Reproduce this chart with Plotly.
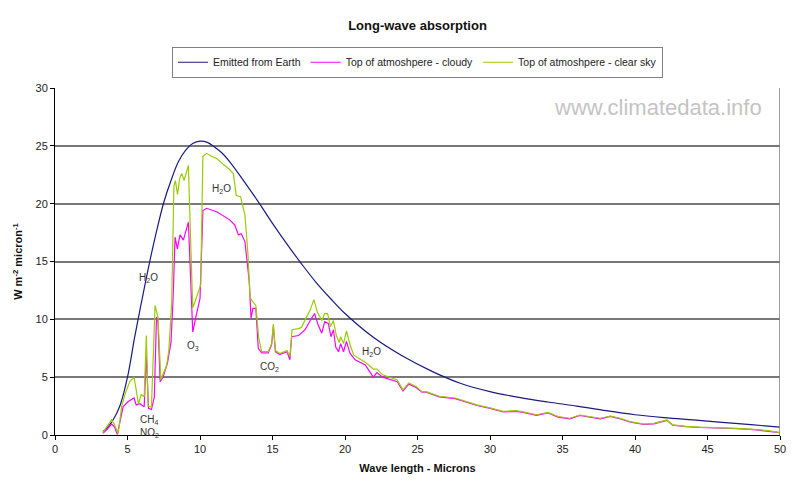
import plotly.graph_objects as go

# Emitted from Earth
earth_x = [3.3, 3.5, 4, 4.5, 5, 5.5, 6, 6.5, 7, 7.5, 8, 8.5, 9, 9.5, 10, 10.5, 11, 11.5, 12,
           13, 14, 15, 16, 17, 18, 19, 20, 22, 24, 26, 28, 30, 32, 34, 36, 38, 40, 42, 44, 46, 48, 50]
earth_y = [0.3, 0.5, 1.3, 2.6, 5.0, 8.5, 11.7, 14.8, 17.6, 20.1, 22.0, 23.6, 24.6, 25.2, 25.4, 25.3, 24.9, 24.4, 23.7,
           22.0, 20.2, 18.3, 16.5, 14.8, 13.2, 11.8, 10.5, 8.4, 6.8, 5.5, 4.45, 3.75, 3.25, 2.85, 2.5, 2.1, 1.75, 1.5, 1.3, 1.1, 0.9, 0.68]

# Top of atmosphere - clear sky
clear_x = [3.3, 3.6, 3.9, 4.1, 4.35, 4.6, 4.85, 5.15, 5.45, 5.6, 5.75, 5.95, 6.15, 6.3, 6.42, 6.65, 6.9, 7.1, 7.3,
           7.7, 7.85, 8.05, 8.2, 8.3, 8.45, 8.6, 8.75, 8.9, 9.2, 9.35, 9.5, 9.65, 9.9, 10.05, 10.2, 10.45, 10.8, 11.15,
           11.6, 12.0, 12.3, 12.5, 12.8, 13.1, 13.3, 13.45, 13.65, 13.85, 14.05, 14.25, 14.7, 14.94, 15.06, 15.2, 15.5,
           16.0, 16.2, 16.35, 16.8, 17.0, 17.3, 17.6, 17.85, 18.1, 18.4, 18.6, 18.8, 19.0, 19.2, 19.4, 19.6, 19.7, 19.9,
           20.1, 20.35, 20.6, 21.0, 21.4, 21.95, 22.2, 22.6, 23.0, 23.6, 24.0, 24.4, 24.9, 25.3, 25.6, 26.5, 27.6, 28.4,
           29.1, 30.0, 30.9, 31.8, 32.3, 33.2, 34.0, 34.7, 35.5, 36.2, 36.9, 37.6, 38.3, 39.0, 39.7, 40.6, 41.3, 42.2,
           42.6, 43.5, 44.5, 45.9, 47.0, 48.2, 49.2, 50.0]
clear_y = [0.2, 0.7, 1.3, 0.9, 0.1, 2.5, 3.6, 4.6, 5.0, 3.9, 2.7, 3.5, 3.3, 8.6, 2.5, 2.4, 11.2, 10.2, 4.8,
           6.0, 7.3, 11.5, 21.5, 22.0, 20.8, 22.2, 22.6, 22.0, 23.3, 17.0, 11.0, 11.5, 12.5, 13.0, 24.1, 24.35, 24.1, 23.9,
           23.4, 23.0, 22.6, 20.7, 20.6, 19.0, 15.8, 11.9, 11.5, 11.2, 8.4, 7.2, 7.2, 7.9, 9.6, 7.3, 7.05,
           7.3, 6.8, 9.1, 9.2, 9.3, 10.1, 10.8, 11.7, 10.6, 9.9, 10.5, 10.5, 9.35, 9.9, 8.6, 8.0, 8.5, 7.9,
           9.0, 7.8, 6.9, 6.6, 6.3, 5.7, 5.7, 5.2, 5.0, 4.75, 3.9, 4.5, 4.2, 3.75, 3.75, 3.35, 3.2, 2.9,
           2.6, 2.35, 2.05, 2.1, 2.0, 1.75, 1.95, 1.6, 1.45, 1.73, 1.6, 1.45, 1.64, 1.44, 1.15, 0.95, 1.0, 1.3,
           0.88, 0.75, 0.68, 0.66, 0.58, 0.49, 0.38, 0.2]

# Top of atmosphere - cloudy
cloudy_x = [3.3, 3.6, 3.9, 4.1, 4.3, 4.7, 5.05, 5.45, 5.6, 5.85, 6.15, 6.3, 6.45, 6.65, 6.85, 7.0, 7.1, 7.25, 7.45,
            7.75, 8.0, 8.15, 8.28, 8.44, 8.62, 8.85, 9.2, 9.35, 9.5, 9.75, 10.0, 10.2, 10.45, 11.15, 12.05, 12.4,
            12.65, 12.85, 13.1, 13.4, 13.52, 13.65, 13.85, 14.02, 14.25, 14.7, 14.94, 15.06, 15.2, 15.5, 16.0, 16.2,
            16.32, 16.8, 17.25, 17.6, 17.9, 18.15, 18.4, 18.6, 18.85, 19.03, 19.2, 19.36, 19.55, 19.7, 19.9, 20.1,
            20.35, 20.7, 21.4, 21.95, 22.2, 22.6, 23.0, 23.6, 24.0, 24.4, 24.9, 25.3, 25.6, 26.5, 27.6, 28.4,
            29.1, 30.0, 30.9, 31.8, 32.3, 33.2, 34.0, 34.7, 35.5, 36.2, 36.9, 37.6, 38.3, 39.0, 39.7, 40.6, 41.3, 42.2,
            42.6, 43.5, 44.5, 45.9, 47.0, 48.2, 49.2, 50.0]
cloudy_y = [0.15, 0.5, 0.95, 0.7, 0.05, 2.45, 2.9, 3.2, 2.6, 2.7, 2.45, 6.9, 2.3, 2.2, 3.3, 10.2, 9.8, 4.6, 5.0,
            6.2, 8.0, 12.0, 17.1, 16.1, 17.3, 16.85, 18.4, 14.0, 8.9, 10.4, 11.8, 19.4, 19.6, 19.3, 18.6, 18.15,
            17.3, 17.4, 16.7, 13.25, 10.1, 10.95, 10.95, 7.5, 7.1, 7.1, 7.8, 9.4, 7.2, 6.95, 7.2, 6.5,
            8.5, 8.6, 9.1, 9.9, 10.5, 9.5, 8.8, 9.8, 9.65, 8.5, 9.1, 7.6, 7.2, 7.9, 7.2, 8.1,
            7.05, 6.5, 6.05, 5.0, 5.4, 5.0, 4.85, 4.6, 3.8, 4.4, 4.1, 3.7, 3.7, 3.3, 3.15, 2.85,
            2.55, 2.3, 2.0, 2.05, 1.95, 1.7, 1.9, 1.55, 1.4, 1.7, 1.55, 1.4, 1.6, 1.4, 1.1, 0.92, 0.97, 1.27,
            0.85, 0.72, 0.65, 0.63, 0.55, 0.46, 0.35, 0.2]

labels = ["H<sub>2</sub>O", "H<sub>2</sub>O", "O<sub>3</sub>", "CO<sub>2</sub>", "H<sub>2</sub>O", "CH<sub>4</sub>", "NO<sub>2</sub>"]
label_x = [6.45, 11.5, 9.5, 14.8, 21.8, 6.5, 6.5]
label_y = [13.6, 21.3, 7.7, 5.9, 7.2, 1.3, 0.15]

font = "Arial, 'Liberation Sans', sans-serif"

fig = go.Figure()
fig.add_trace(go.Scatter(x=earth_x, y=earth_y, mode="lines", name="Emitted from Earth",
                         line=dict(color="#1a1a80", width=1.2), line_shape="spline"))
fig.add_trace(go.Scatter(x=cloudy_x, y=cloudy_y, mode="lines", name="Top of atmoshpere - cloudy",
                         line=dict(color="#ff00ff", width=1.2)))
fig.add_trace(go.Scatter(x=clear_x, y=clear_y, mode="lines", name="Top of atmoshpere - clear sky",
                         line=dict(color="#99cc00", width=1.2)))

for t, x, y in zip(labels, label_x, label_y):
    fig.add_annotation(x=x, y=y, text=t, showarrow=False, font=dict(family=font, size=10, color="#333"))

fig.add_annotation(xref="paper", yref="paper", x=0.832, y=0.945, xanchor="center", yanchor="middle",
                   text="www.climatedata.info",
                   showarrow=False, font=dict(family=font, size=22, color="#c4c4c4"))

fig.add_shape(type="line", xref="x", yref="y", x0=50, x1=50, y0=0, y1=30,
              line=dict(color="#808080", width=1.5))

fig.update_layout(
    width=800, height=492,
    margin=dict(l=55, r=20, t=88, b=57, autoexpand=False),
    paper_bgcolor="white", plot_bgcolor="white",
    font=dict(family=font, size=11, color="#222"),
    title=dict(text="<b>Long-wave absorption</b>", x=0.5, xref="paper", xanchor="center",
               y=0.949, yref="container", yanchor="middle",
               font=dict(family=font, size=13, color="#111")),
    legend=dict(orientation="h", x=0.5, xanchor="center", xref="paper",
                y=0.905, yanchor="top", yref="container",
                bordercolor="#808080", borderwidth=1, font=dict(family=font, size=10.5, color="#222"),
                itemwidth=30, tracegroupgap=0),
    showlegend=True,
    xaxis=dict(range=[0, 50], tickmode="linear", tick0=0, dtick=5, showgrid=False, zeroline=False,
               showline=True, linecolor="black", linewidth=1, ticks="outside", ticklen=4, tickcolor="black",
               automargin=False,
               title=dict(text="<b>Wave length - Microns</b>", font=dict(family=font, size=11, color="#111"), standoff=10)),
    yaxis=dict(range=[0, 30], tickmode="linear", tick0=0, dtick=5, showgrid=True, gridcolor="#787878", gridwidth=1.6,
               zeroline=False, showline=True, linecolor="black", linewidth=1, ticks="outside", ticklen=4,
               tickcolor="black", automargin=False,
               title=dict(text="<b>W m<sup>-2</sup> micron<sup>-1</sup></b>", font=dict(family=font, size=11, color="#111"), standoff=10)),
)

fig.write_html("out.html", config={"displayModeBar": False},
               post_script="document.body.style.margin='0';")
